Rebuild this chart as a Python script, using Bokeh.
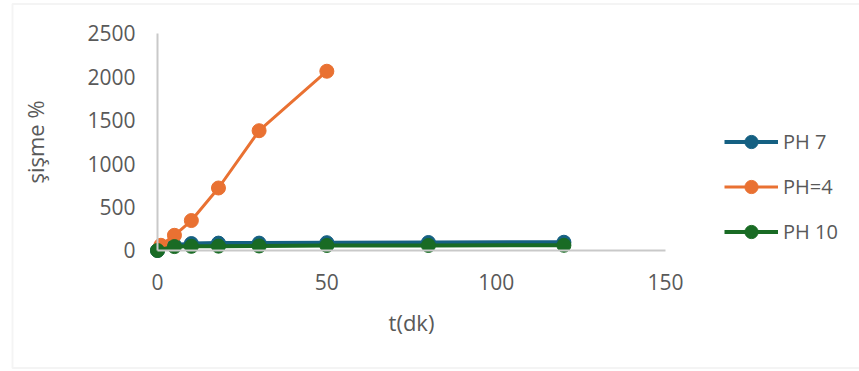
from bokeh.plotting import figure
from bokeh.models import Range1d, FixedTicker, Legend, LegendItem, BoxAnnotation
from bokeh.embed import file_html
from bokeh.resources import INLINE

# time (minutes) and swelling (%) for each pH series
t_ph7 = [0, 5, 10, 18, 30, 50, 80, 120]
sw_ph7 = [0, 60, 80, 85, 85, 90, 92, 95]

t_ph4 = [1, 5, 10, 18, 30, 50]
sw_ph4 = [60, 175, 345, 720, 1380, 2065]

t_ph10 = [0, 5, 10, 18, 30, 50, 80, 120]
sw_ph10 = [0, 45, 48, 50, 52, 58, 58, 60]

x_ticks = [0, 50, 100, 150]
y_ticks = [0, 500, 1000, 1500, 2000, 2500]

series = [
    ("PH 7", t_ph7, sw_ph7, "#156082", 4),
    ("PH=4", t_ph4, sw_ph4, "#E97132", 3),
    ("PH 10", t_ph10, sw_ph10, "#196B24", 4),
]

FONT = "Open Sans"
TXT = "#595959"
AXIS = "#c9c9c9"

# the frame fills the whole canvas; axes float at x=0 / y=0
p = figure(
    width=859, height=371,
    output_backend="svg", toolbar_location=None,
    x_range=Range1d(-46.36, 207.28), y_range=Range1d(-1394, 2880),
    min_border=0,
)
p.background_fill_color = "white"
p.border_fill_color = "white"
p.outline_line_color = None
p.grid.visible = False

# chart-area border (open on the right)
p.add_layout(BoxAnnotation(
    left=12, right=900, top=3.5, bottom=367.5,
    left_units="canvas", right_units="canvas",
    top_units="canvas", bottom_units="canvas",
    fill_alpha=0, line_color="#dcdcdc", line_width=2,
))

for ax in (p.xaxis, p.yaxis):
    ax.fixed_location = 0
    ax.axis_line_color = AXIS
    ax.axis_line_width = 2
    ax.major_tick_line_color = None
    ax.minor_tick_line_color = None
    ax.major_label_text_font = FONT
    ax.major_label_text_font_size = "21px"
    ax.major_label_text_color = TXT
    ax.axis_label_text_font = FONT
    ax.axis_label_text_font_size = "22px"
    ax.axis_label_text_color = TXT
    ax.axis_label_text_font_style = "normal"

p.xaxis.bounds = (x_ticks[0], x_ticks[-1])
p.yaxis.bounds = (y_ticks[0], y_ticks[-1])
p.xaxis.ticker = FixedTicker(ticks=x_ticks)
p.yaxis.ticker = FixedTicker(ticks=y_ticks)
p.xaxis.major_label_standoff = 18
p.yaxis.major_label_standoff = 16
p.xaxis.axis_label = "t(dk)"
p.yaxis.axis_label = "şişme %"
p.xaxis.axis_label_standoff = 13
p.yaxis.axis_label_standoff = 34

items = []
for name, t, sw, color, lw in series:
    ln = p.line(t, sw, line_color=color, line_width=lw, line_join="round")
    mk = p.scatter(t, sw, size=14, fill_color=color, line_color=color)
    items.append(LegendItem(label=name, renderers=[ln, mk]))

legend = Legend(
    items=items, location=(724, 123),
    glyph_width=54, glyph_height=33, spacing=12,
    label_standoff=5, padding=0, margin=0,
    label_text_font=FONT, label_text_font_size="20px", label_text_color=TXT,
    border_line_color=None, background_fill_alpha=0,
)
p.add_layout(legend)

open("out.html", "w").write(file_html(p, INLINE))
